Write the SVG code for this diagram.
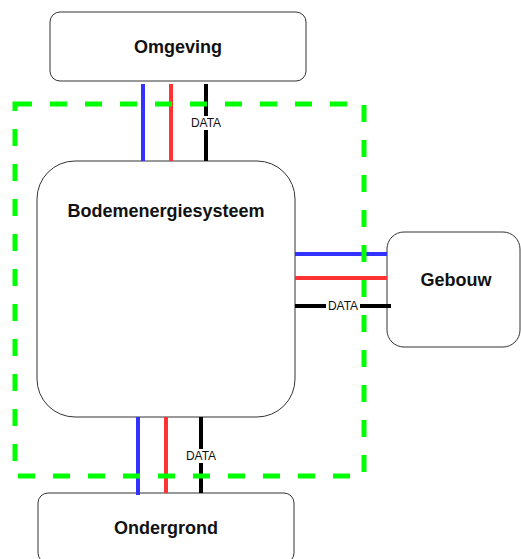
<svg xmlns="http://www.w3.org/2000/svg" width="521" height="559" viewBox="0 0 521 559">
<style>
.node{fill:#fff;stroke:#333;stroke-width:1}
.lbl{font-family:"Liberation Sans",Arial,sans-serif;font-weight:bold;font-size:18px;fill:#111;text-anchor:middle;dominant-baseline:central}
.dl{font-family:"Liberation Sans",Arial,sans-serif;font-size:12px;fill:#111;text-anchor:middle;dominant-baseline:central}
.c{stroke-width:4;fill:none}
.b{stroke:#3333FF}.r{stroke:#FF3333}.k{stroke:#000}
.boundary{fill:none;stroke:#00FF00;stroke-width:5;stroke-dasharray:17 18}
</style>
<rect width="521" height="559" fill="#fff"/>
<g id="omgeving"><rect class="node" x="50" y="12" width="256" height="69" rx="10"/><text class="lbl" x="178" y="47">Omgeving</text></g>
<g id="bodemenergiesysteem"><rect class="node" x="37" y="161" width="258" height="256" rx="38"/><text class="lbl" x="166" y="211">Bodemenergiesysteem</text></g>
<g id="gebouw"><rect class="node" x="387" y="232" width="133" height="115" rx="17"/><text class="lbl" x="456" y="280">Gebouw</text></g>
<g id="ondergrond"><rect class="node" x="38" y="493" width="256" height="70" rx="10"/><text class="lbl" x="166" y="528">Ondergrond</text></g>
<g id="connectors">
<line class="c b" x1="143" y1="84" x2="143" y2="161"/>
<line class="c r" x1="171" y1="84" x2="171" y2="161"/>
<line class="c k" x1="206" y1="84" x2="206" y2="161"/>
<rect x="188" y="116" width="36" height="14" fill="#fff"/>
<text class="dl" x="206" y="123">DATA</text>
<line class="c b" x1="295" y1="254" x2="387" y2="254"/>
<line class="c r" x1="295" y1="278" x2="387" y2="278"/>
<line class="c k" x1="295" y1="306" x2="391" y2="306"/>
<rect x="326" y="299" width="34" height="14" fill="#fff"/>
<text class="dl" x="343" y="306">DATA</text>
<line class="c b" x1="138" y1="417" x2="138" y2="495"/>
<line class="c r" x1="166" y1="417" x2="166" y2="493"/>
<line class="c k" x1="201" y1="417" x2="201" y2="493"/>
<rect x="183" y="449" width="36" height="14" fill="#fff"/>
<text class="dl" x="201" y="456">DATA</text>
</g>
<g id="systeemgrens"><rect class="boundary" x="15" y="104" width="349" height="372"/></g>
</svg>
